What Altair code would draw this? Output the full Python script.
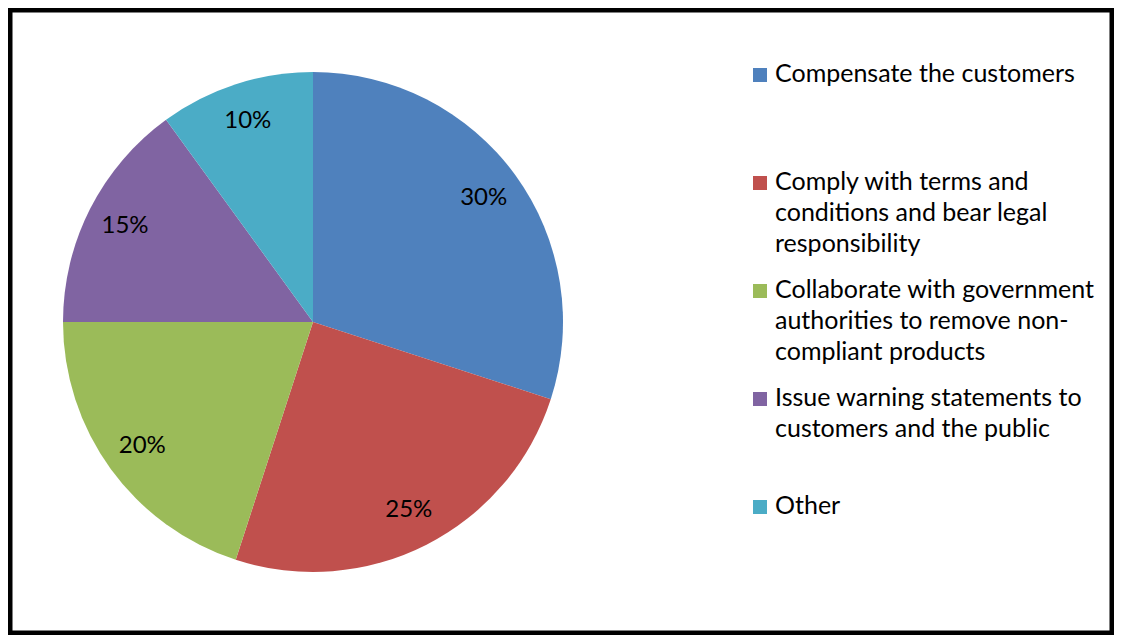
import altair as alt
import pandas as pd

categories = [
    "Compensate the customers",
    "Comply with terms and conditions and bear legal responsibility",
    "Collaborate with government authorities to remove non-compliant products",
    "Issue warning statements to customers and the public",
    "Other",
]
legend_labels = [
    "Compensate the customers",
    "Comply with terms and\nconditions and bear legal\nresponsibility",
    "Collaborate with government\nauthorities to remove non-\ncompliant products",
    "Issue warning statements to\ncustomers and the public",
    "Other",
]
values = [30, 25, 20, 15, 10]
pct_labels = ["30%", "25%", "20%", "15%", "10%"]
colors = ["#4F81BD", "#C0504D", "#9BBB59", "#8064A2", "#4BACC6"]

df = pd.DataFrame({
    "idx": list(range(len(categories))),
    "category": categories,
    "legend": legend_labels,
    "value": values,
    "pct": pct_labels,
})

FONT = "Lato"
CX, CY = 303, 312
color = alt.Color("category:N", scale=alt.Scale(domain=categories, range=colors), legend=None)
theta = alt.Theta("value:Q", stack=True)
order = alt.Order("idx:Q", sort="ascending")

base = alt.Chart(df)

pie = base.mark_arc(radius=250, stroke=None).encode(
    theta=theta, color=color, order=order,
    x=alt.value(CX), y=alt.value(CY),
)
pie_text = base.mark_text(radius=211, font=FONT, fontSize=24, color="black").encode(
    theta=theta, text="pct:N", order=order,
    x=alt.value(CX), y=alt.value(CY),
)

ypos = alt.Y("category:N", sort=categories, axis=None,
             scale=alt.Scale(type="point", range=[65, 497], padding=0))

leg_sq = base.mark_square(size=196, opacity=1).encode(
    x=alt.value(750), y=ypos, color=color,
)
leg_txt = base.mark_text(
    align="left", baseline="top", lineBreak="\n", lineHeight=31,
    font=FONT, fontSize=25, color="black", dy=-13,
).encode(x=alt.value(765), y=ypos, text="legend:N")

chart = alt.layer(pie, pie_text, leg_sq, leg_txt).properties(
    width=1102, height=623, padding=2,
    autosize=alt.AutoSizeParams(type="none"),
).configure_view(stroke="black", strokeWidth=5)

chart.save("out.html", embed_options={"renderer": "svg", "actions": False})
